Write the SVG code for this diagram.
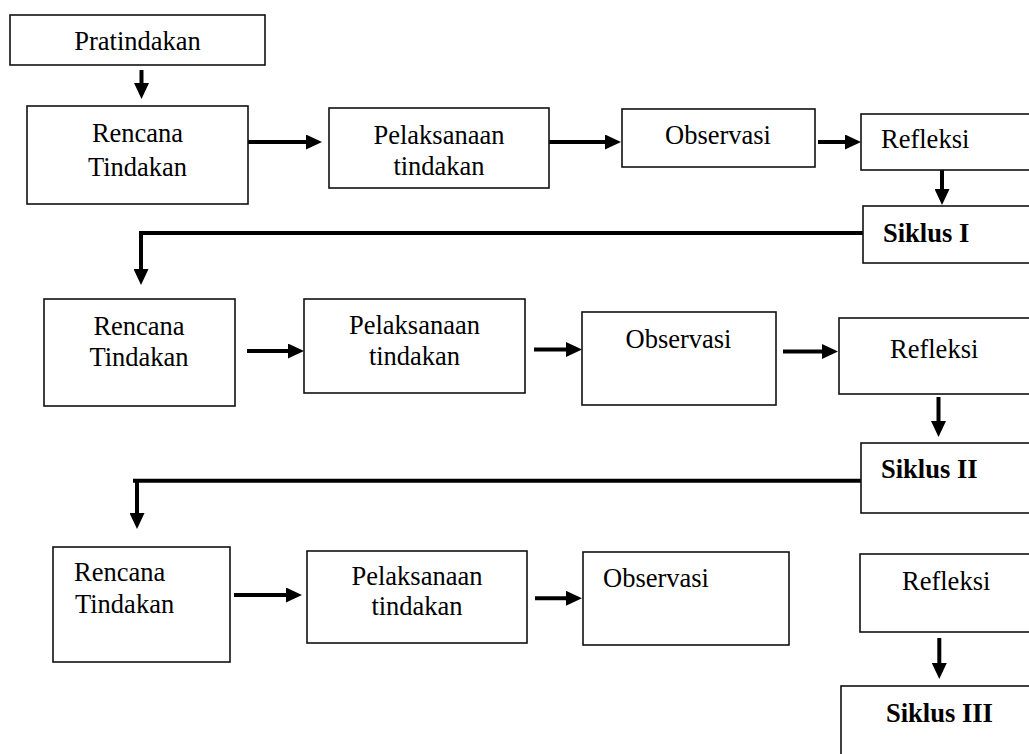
<svg xmlns="http://www.w3.org/2000/svg" width="1029" height="754" viewBox="0 0 1029 754">
<defs>
<style>
.box{fill:#fff;stroke:#111;stroke-width:1.6}
.t{font-family:"Liberation Serif","Times New Roman","DejaVu Serif",serif;font-size:26.5px;fill:#000}
.c{text-anchor:middle}
.b{font-weight:bold}
.ar{fill:none;stroke:#000;stroke-width:4;marker-end:url(#ah)}
.ln{fill:none;stroke:#000;stroke-width:4}
</style>
<marker id="ah" markerUnits="userSpaceOnUse" viewBox="0 0 16 15" markerWidth="16" markerHeight="15" refX="6" refY="7.5" orient="auto">
<path d="M0,0 L16,7.5 L0,15 z" fill="#000"/>
</marker>
</defs>
<rect width="1029" height="754" fill="#fff"/>

<g id="connectors">
<line class="ar" x1="141.5" y1="70" x2="141.5" y2="89"/>
<line class="ar" x1="248" y1="142" x2="312" y2="142"/>
<line class="ar" x1="549" y1="142" x2="611" y2="142"/>
<line class="ar" x1="818" y1="142" x2="851" y2="142"/>
<line class="ar" x1="942" y1="170" x2="942" y2="195"/>
<polyline class="ln" points="863,233 139,233"/>
<line class="ar" x1="141" y1="231" x2="141" y2="275"/>
<line class="ar" x1="247" y1="351" x2="294" y2="351"/>
<line class="ar" x1="534" y1="349.5" x2="572" y2="349.5"/>
<line class="ar" x1="783" y1="351.5" x2="828" y2="351.5"/>
<line class="ar" x1="938.5" y1="397" x2="938.5" y2="427"/>
<polyline class="ln" points="862,480.7 133,480.7"/>
<line class="ar" x1="137" y1="479" x2="137" y2="519"/>
<line class="ar" x1="234" y1="595" x2="292" y2="595"/>
<line class="ar" x1="535" y1="598.3" x2="572" y2="598.3"/>
<line class="ar" x1="939.3" y1="638" x2="939.3" y2="669"/>
</g>

<g id="pratindakan">
<rect class="box" x="10" y="15" width="255" height="50"/>
<text class="t c" x="137.5" y="50">Pratindakan</text>
</g>

<g id="rencana1">
<rect class="box" x="27" y="106" width="221" height="98"/>
<text class="t c" x="137.5" y="142">Rencana</text>
<text class="t c" x="137.5" y="176">Tindakan</text>
</g>
<g id="pelaksanaan1">
<rect class="box" x="329" y="108" width="220" height="80"/>
<text class="t c" x="439" y="144">Pelaksanaan</text>
<text class="t c" x="439" y="175">tindakan</text>
</g>
<g id="observasi1">
<rect class="box" x="622" y="109" width="193" height="58"/>
<text class="t c" x="718" y="144">Observasi</text>
</g>
<g id="refleksi1">
<rect class="box" x="861" y="114" width="200" height="56"/>
<text class="t" x="881" y="148">Refleksi</text>
</g>
<g id="siklus1">
<rect class="box" x="863" y="206" width="200" height="57"/>
<text class="t b" x="883" y="242">Siklus I</text>
</g>

<g id="rencana2">
<rect class="box" x="44" y="299" width="191" height="107"/>
<text class="t c" x="139" y="335">Rencana</text>
<text class="t c" x="139" y="366">Tindakan</text>
</g>
<g id="pelaksanaan2">
<rect class="box" x="304" y="299" width="221" height="94"/>
<text class="t c" x="414.5" y="334">Pelaksanaan</text>
<text class="t c" x="414.5" y="365">tindakan</text>
</g>
<g id="observasi2">
<rect class="box" x="582" y="312" width="194" height="93"/>
<text class="t c" x="678.5" y="348">Observasi</text>
</g>
<g id="refleksi2">
<rect class="box" x="839" y="318" width="220" height="76"/>
<text class="t" x="890" y="358">Refleksi</text>
</g>
<g id="siklus2">
<rect class="box" x="861" y="443" width="200" height="70"/>
<text class="t b" x="881" y="478">Siklus II</text>
</g>

<g id="rencana3">
<rect class="box" x="53" y="547" width="177" height="115"/>
<text class="t" x="74" y="581">Rencana</text>
<text class="t" x="75" y="613">Tindakan</text>
</g>
<g id="pelaksanaan3">
<rect class="box" x="307" y="551" width="220" height="92"/>
<text class="t c" x="417" y="585">Pelaksanaan</text>
<text class="t c" x="417" y="615">tindakan</text>
</g>
<g id="observasi3">
<rect class="box" x="583" y="552" width="206" height="93"/>
<text class="t" x="603" y="587">Observasi</text>
</g>
<g id="refleksi3">
<rect class="box" x="860" y="554" width="200" height="78"/>
<text class="t" x="902" y="590">Refleksi</text>
</g>
<g id="siklus3">
<rect class="box" x="841" y="686" width="220" height="100"/>
<text class="t b" x="886" y="722">Siklus III</text>
</g>
</svg>
